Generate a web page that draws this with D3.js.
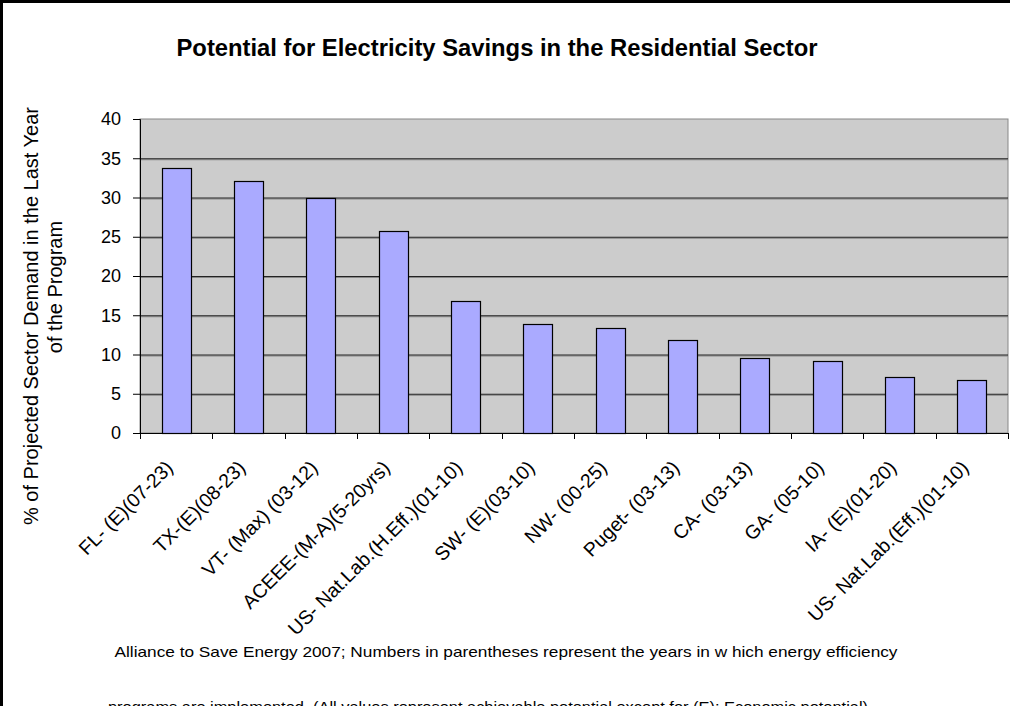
<!DOCTYPE html>
<html>
<head>
<meta charset="utf-8">
<script src="https://cdn.jsdelivr.net/npm/d3@7"></script>
<style>
  body { margin: 0; background: #fff; }
  svg { display: block; font-family: "Liberation Sans", Arial, sans-serif; }
</style>
</head>
<body>
<div id="chart"></div>
<script>
// program names and savings (% of projected sector demand)
var categories = ["FL- (E)(07-23)", "TX-(E)(08-23)", "VT- (Max) (03-12)", "ACEEE-(M-A)(5-20yrs)",
  "US- Nat.Lab.(H.Eff.)(01-10)", "SW- (E)(03-10)", "NW- (00-25)", "Puget- (03-13)",
  "CA- (03-13)", "GA- (05-10)", "IA- (E)(01-20)", "US- Nat.Lab.(Eff.)(01-10)"];
var values = [33.7, 32.1, 30.0, 25.7, 16.85, 13.85, 13.4, 11.8, 9.6, 9.2, 7.1, 6.7];
var yTicks = [0, 5, 10, 15, 20, 25, 30, 35, 40];

var width = 1010;
var height = 706;
var margin = {left: 140, right: 2, top: 119, bottom: 273};

var svg = d3.select("#chart")
  .append("svg")
  .attr("width", width)
  .attr("height", height);

// outer chart border (cropped at right/bottom)
svg.append("rect")
  .attr("x", 1.5).attr("y", 1.5)
  .attr("width", width + 10).attr("height", height + 10)
  .attr("fill", "none")
  .attr("stroke", "#000")
  .attr("stroke-width", 3);

var x = d3.scaleBand()
  .domain(categories)
  .range([margin.left, width - margin.right])
  .paddingInner(0.6)
  .paddingOuter(0.3);

var y = d3.scaleLinear()
  .domain([0, 40])
  .range([height - margin.bottom, margin.top]);

// plot area
svg.append("rect")
  .attr("x", margin.left)
  .attr("y", y(40))
  .attr("width", width - margin.right - margin.left)
  .attr("height", y(0) - y(40))
  .attr("fill", "#cccccc")
  .attr("stroke", "#888")
  .attr("stroke-width", 1);

var inner = yTicks.filter(d => d > 0 && d < 40);

// grid lines, with a faint shadow line under each
svg.append("g")
  .selectAll("line")
  .data(inner)
  .join("line")
    .attr("x1", margin.left).attr("x2", width - margin.right)
    .attr("y1", d => y(d) + 1.5).attr("y2", d => y(d) + 1.5)
    .attr("stroke", "#888");

svg.append("g")
  .selectAll("line")
  .data(inner)
  .join("line")
    .attr("x1", margin.left).attr("x2", width - margin.right)
    .attr("y1", d => y(d) + 0.5).attr("y2", d => y(d) + 0.5)
    .attr("stroke", "#222");

// bars
svg.append("g")
  .selectAll("rect")
  .data(values)
  .join("rect")
    .attr("x", (d, i) => Math.round(x(categories[i])) + 0.5)
    .attr("y", d => Math.round(y(d)) + 0.5)
    .attr("width", Math.round(x.bandwidth()))
    .attr("height", d => Math.round(y(0)) - Math.round(y(d)))
    .attr("fill", "#aaaaff")
    .attr("stroke", "#000")
    .attr("stroke-width", 1.2);

// y axis
var yAxis = svg.append("g")
  .attr("transform", `translate(${margin.left},0)`)
  .call(d3.axisLeft(y).tickValues(yTicks).tickSize(7).tickPadding(12));
yAxis.select(".domain").attr("stroke", "#000");
yAxis.selectAll("text")
  .attr("font-size", 18)
  .attr("fill", "#000")
  .attr("font-family", "Liberation Sans, Arial, sans-serif");

// x axis: ticks at category boundaries
var bounds = d3.range(categories.length + 1).map(i => margin.left + i * (width - margin.right - margin.left) / categories.length);
svg.append("line")
  .attr("x1", margin.left - 7).attr("x2", width - margin.right)
  .attr("y1", y(0) + 0.5).attr("y2", y(0) + 0.5)
  .attr("stroke", "#000");
svg.append("g")
  .selectAll("line")
  .data(bounds)
  .join("line")
    .attr("x1", d => Math.round(d) + 0.5).attr("x2", d => Math.round(d) + 0.5)
    .attr("y1", y(0)).attr("y2", y(0) + 6)
    .attr("stroke", "#000");

svg.append("g")
  .selectAll("text")
  .data(categories)
  .join("text")
    .attr("transform", d => `translate(${x(d) + x.bandwidth() / 2 - 2},${y(0) + 36}) rotate(-45)`)
    .attr("text-anchor", "end")
    .attr("font-size", 19.5)
    .attr("fill", "#000")
    .text(d => d);

// title
svg.append("text")
  .attr("x", 497)
  .attr("y", 56)
  .attr("text-anchor", "middle")
  .attr("font-size", 23)
  .attr("font-weight", "bold")
  .attr("textLength", 641)
  .attr("lengthAdjust", "spacingAndGlyphs")
  .text("Potential for Electricity Savings in the Residential Sector");

// y axis label (two lines)
svg.append("text")
  .attr("transform", "translate(38,316) rotate(-90)")
  .attr("text-anchor", "middle")
  .attr("font-size", 20)
  .text("% of Projected Sector Demand in the Last Year");
svg.append("text")
  .attr("transform", "translate(62,287) rotate(-90)")
  .attr("text-anchor", "middle")
  .attr("font-size", 20)
  .text("of the Program");

// footnote
svg.append("text")
  .attr("x", 506)
  .attr("y", 657)
  .attr("text-anchor", "middle")
  .attr("font-size", 14.5)
  .attr("textLength", 783)
  .attr("lengthAdjust", "spacingAndGlyphs")
  .text("Alliance to Save Energy 2007; Numbers in parentheses represent the years in w hich energy efficiency");
svg.append("text")
  .attr("x", 488)
  .attr("y", 712)
  .attr("text-anchor", "middle")
  .attr("font-size", 14.5)
  .attr("textLength", 760)
  .attr("lengthAdjust", "spacingAndGlyphs")
  .text("programs are implemented. (All values represent achievable potential except for (E): Economic potential)");
</script>
</body>
</html>
